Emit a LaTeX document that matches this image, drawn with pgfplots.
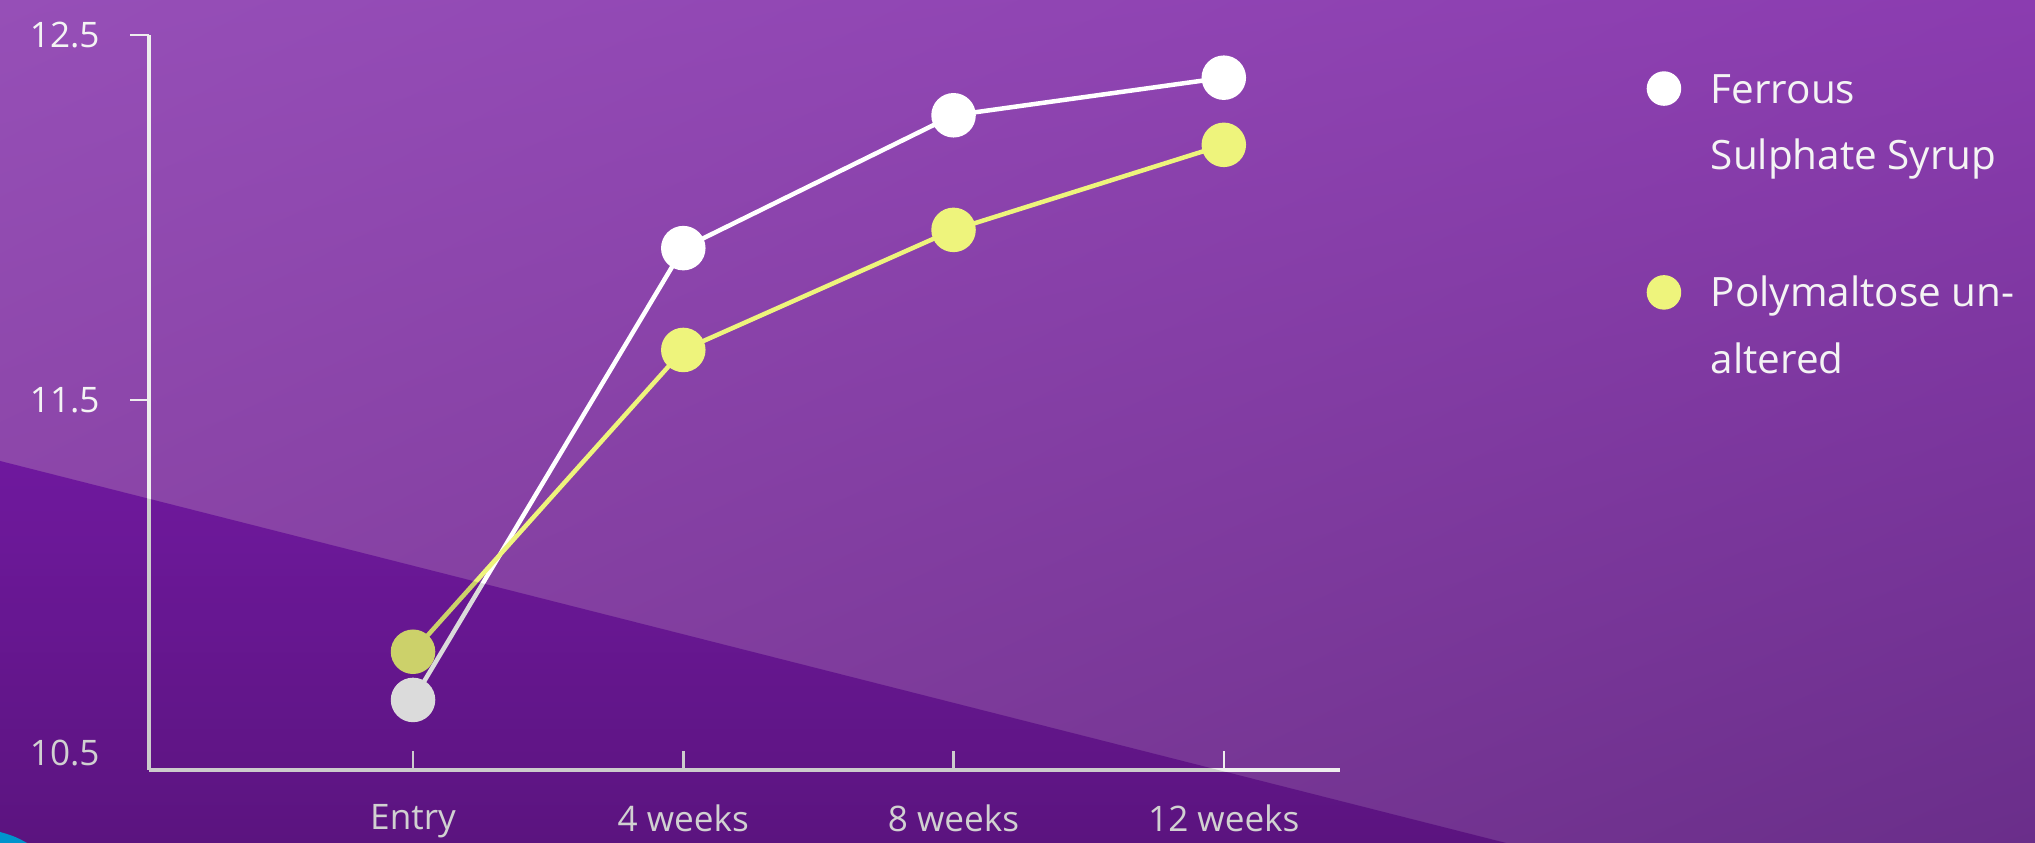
\documentclass[border=0pt]{standalone}
\usepackage{pgfplots}
\pgfplotsset{compat=1.18}
\usetikzlibrary{shadings}
\usepackage{fontspec}
\setmainfont{Open Sans}
\definecolor{bgTL}{HTML}{964FB7}
\definecolor{bgTR}{HTML}{8B3CB0}
\definecolor{bgBL}{HTML}{85409F}
\definecolor{bgBR}{HTML}{6A2E8A}
\definecolor{dkT}{HTML}{821DB8}
\definecolor{dkB}{HTML}{6B1895}
\definecolor{ylw}{HTML}{EEF47C}
\definecolor{axc}{HTML}{EEEEEE}
\definecolor{txt}{HTML}{F4F4F4}
\begin{document}
\begin{tikzpicture}
\begin{scope}[x=0.1mm,y=0.1mm]
\clip (0,0) rectangle (2035,843);
\shade[upper left=bgTL, upper right=bgTR, lower left=bgBL, lower right=bgBR] (0,0) rectangle (2035,843);
\shade[top color=dkT, bottom color=dkB] (0,382) -- (1506,0) -- (0,0) -- cycle;
\fill[cyan] (0,0) -- (0,11) to[out=-15,in=150] (27,0) -- cycle;
\end{scope}
\begin{axis}[
  scale only axis, width=119.1mm, height=73.5mm,
  at={(14.9mm,7.3mm)}, anchor=south west,
  xmin=-0.977, xmax=3.43, ymin=10.486, ymax=12.5,
  axis x line*=bottom, axis y line*=left,
  axis line style={draw=axc, line width=0.4mm},
  xtick={0,1,2,3}, xticklabels={Entry,4 weeks,8 weeks,12 weeks},
  ytick={11.5,12.5}, yticklabels={11.5,12.5},
  extra y ticks={10.533}, extra y tick labels={10.5},
  extra y tick style={tick style={draw=none}},
  xtick align=inside, ytick align=outside,
  major tick length=1.9mm,
  tick style={draw=axc, line width=0.25mm},
  tick label style={font=\fontsize{10}{12}\selectfont, text=txt},
  yticklabel style={xshift=-1.8mm},
  xticklabel style={yshift=-2.2mm},
  /pgf/number format/assume math mode=true,
  clip=false,
  legend style={at={(1.2594,0.971)}, anchor=north west, draw=none, fill=none,
    inner sep=0pt, outer sep=0pt, font=\fontsize{11.5}{19}\selectfont, text=txt,
    nodes={inner sep=0pt}, cells={anchor=base west}, column sep=3.2mm},
  legend image code/.code={\draw[#1, mark size=1.5mm] plot[only marks] coordinates {(0.15cm,1.45mm)};},
]
\addplot[color=white, line width=0.45mm, mark=*, mark size=2mm, mark options={fill=white, draw=none}]
  coordinates {(0,10.678) (1,11.916) (2,12.28) (3,12.383)};
\addlegendentry{\begin{tabular}[t]{@{}l@{}}Ferrous\\Sulphate Syrup\end{tabular}}
\addplot[color=ylw, line width=0.45mm, mark=*, mark size=2mm, mark options={fill=ylw, draw=none}]
  coordinates {(0,10.81) (1,11.637) (2,11.966) (3,12.199)};
\addlegendentry{\begin{tabular}[t]{@{}l@{}}\rule{0pt}{56.5pt}Polymaltose un-\\altered\end{tabular}}
\end{axis}
\begin{scope}[x=0.1mm,y=0.1mm]
\fill[black, opacity=0.14] (0,382) -- (1506,0) -- (0,0) -- cycle;
\end{scope}
\pgfresetboundingbox
\useasboundingbox (0,0) rectangle (203.5mm,84.3mm);
\end{tikzpicture}
\end{document}
